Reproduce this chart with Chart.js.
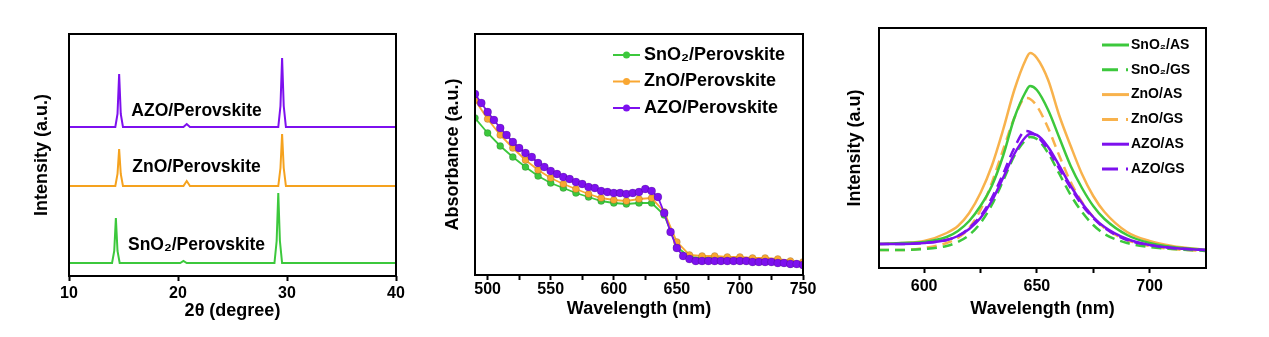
<!DOCTYPE html>
<html>
<head>
<meta charset="utf-8">
<script src="https://cdn.jsdelivr.net/npm/chart.js@4/dist/chart.umd.min.js"></script>
<style>
  body { margin: 0; background: #fff; }
  #wrap { position: relative; width: 1269px; height: 337px; }
  canvas { position: absolute; top: 0; }
</style>
</head>
<body>
<div id="wrap">
  <canvas id="xrd" width="420" height="337" style="left:0px"></canvas>
  <canvas id="abs" width="420" height="337" style="left:420px"></canvas>
  <canvas id="pl" width="429" height="337" style="left:840px"></canvas>
</div>
<script>
// --- XRD (panel a) ---
const xrdTicks = [10, 20, 30, 40];
const xrdAzoX = [10, 14.25, 14.45, 14.6, 14.75, 14.95, 20.5, 20.8, 21.1, 29.2, 29.4, 29.55, 29.7, 29.9, 40];
const xrdAzoY = [149, 149, 162, 202, 162, 149, 149, 152, 149, 149, 170, 218, 170, 149, 149];
const xrdZnoX = [10, 14.25, 14.45, 14.6, 14.75, 14.95, 20.5, 20.8, 21.1, 29.2, 29.4, 29.55, 29.7, 29.9, 40];
const xrdZnoY = [90, 90, 102, 127, 102, 90, 90, 95, 90, 90, 108, 142, 108, 90, 90];
const xrdSnoX = [10, 13.95, 14.15, 14.3, 14.45, 14.65, 20.2, 20.5, 20.8, 28.85, 29.05, 29.2, 29.35, 29.55, 40];
const xrdSnoY = [13, 13, 25, 58, 25, 13, 13, 15, 13, 13, 35, 83, 35, 13, 13];
const xrdNames = ['AZO/Perovskite', 'ZnO/Perovskite', 'SnO\u2082/Perovskite'];

// --- Absorbance (panel b) ---
const absTicks = [500, 525, 550, 575, 600, 625, 650, 675, 700, 725, 750];
const absX10 = [490, 500, 510, 520, 530, 540, 550, 560, 570, 580, 590, 600, 610, 620, 630, 640, 650, 660, 670, 680, 690, 700, 710, 720, 730, 740, 750];
const absSno = [157, 142, 129, 118, 108, 99, 92, 87, 82, 78, 74, 72, 71, 72, 72, 60, 28, 18, 17, 17, 16, 16, 15, 14, 13, 11, 10];
const absZno = [175, 156, 140, 127, 115, 105, 97, 91, 86, 81, 77, 75, 74, 76, 77, 63, 33, 20, 19, 19, 18, 18, 17, 17, 16, 14, 13];
const absX5 = [490, 495, 500, 505, 510, 515, 520, 525, 530, 535, 540, 545, 550, 555, 560, 565, 570, 575, 580, 585, 590, 595, 600, 605, 610, 615, 620, 625, 630, 635, 640, 645, 650, 655, 660, 665, 670, 675, 680, 685, 690, 695, 700, 705, 710, 715, 720, 725, 730, 735, 740, 745, 750];
const absAzo = [181, 172, 163, 155, 147, 140, 133, 127, 122, 118, 112, 108, 104, 101, 98, 96, 93, 91, 88, 87, 84, 83, 82, 82, 81, 82, 83, 86, 84, 78, 62, 43, 27, 19, 16, 14, 14, 14, 14, 14, 14, 14, 14, 14, 13, 13, 13, 13, 12, 12, 11, 11, 10];
const absNames = ['SnO\u2082/Perovskite', 'ZnO/Perovskite', 'AZO/Perovskite'];

// --- PL (panel c) ---
const plTicks = [600, 625, 650, 675, 700];
const plX = [580, 590, 600, 610, 615, 620, 625, 630, 635, 640, 645, 647, 650, 655, 660, 665, 670, 675, 680, 690, 700, 710, 725];
const plSnoAS = [24, 25, 26, 31, 37, 47, 62, 82, 112, 150, 176, 182, 178, 158, 130, 102, 80, 62, 49, 33, 25, 21, 18];
const plSnoGS = [18, 18, 19, 22, 26, 33, 45, 63, 87, 112, 128, 131, 129, 115, 94, 73, 56, 43, 34, 25, 21, 19, 17];
const plZnoAS = [24, 25, 27, 35, 42, 55, 75, 102, 138, 178, 208, 215, 210, 188, 152, 122, 94, 72, 56, 36, 27, 22, 18];
const plZnoGS = [18, 18, 20, 25, 30, 40, 58, 85, 118, 150, 170, 169, 162, 140, 112, 86, 66, 51, 40, 28, 22, 19, 17];
const plAzoAS = [24, 24, 25, 28, 32, 39, 50, 67, 90, 114, 131, 134, 133, 121, 102, 82, 65, 51, 41, 29, 23, 20, 18];
const plAzoGS = [24, 24, 25, 28, 32, 40, 52, 70, 94, 120, 137, 136, 132, 118, 99, 80, 63, 50, 40, 28, 23, 20, 18];
const plNames = ['SnO\u2082/AS', 'SnO\u2082/GS', 'ZnO/AS', 'ZnO/GS', 'AZO/AS', 'AZO/GS'];

const GREEN = '#3cc83c', ORANGE = '#f5a21e', PURPLE = '#7d10ee', PLORANGE = '#f8b24c';
const FONT = "'Liberation Sans', Arial, sans-serif";

function pts(xs, ys) { return xs.map((x, i) => ({ x: x, y: ys[i] })); }

// black box around plot area + extra drawing
const framePlugin = {
  id: 'frame',
  afterDraw(chart, args, opts) {
    const { ctx, chartArea: a } = chart;
    ctx.save();
    ctx.strokeStyle = '#000';
    ctx.lineWidth = 2;
    ctx.strokeRect(a.left, a.top, a.right - a.left, a.bottom - a.top);
    ctx.restore();
    if (opts.extra) opts.extra(chart);
  }
};

function xAxis(min, max, ticks, labelEvery, pad, titleText, titleBottom) {
  return {
    type: 'linear', min: min, max: max,
    afterBuildTicks: s => { s.ticks = ticks.map(v => ({ value: v })); },
    ticks: {
      color: '#000', padding: pad, maxRotation: 0, autoSkip: false,
      font: { family: FONT, size: 16, weight: 'bold' },
      callback: v => (v % labelEvery === 0 ? String(v) : '')
    },
    grid: { drawOnChartArea: false, drawTicks: true, tickLength: 5, tickWidth: 2, tickColor: '#000', color: '#000' },
    border: { display: false },
    title: { display: true, text: titleText, color: '#000', padding: { top: 0, bottom: titleBottom },
      font: { family: FONT, size: 18, weight: 'bold' } }
  };
}

function yAxis(max, titleText, titleTop, width) {
  return {
    type: 'linear', min: 0, max: max,
    ticks: { display: false },
    grid: { display: false },
    border: { display: false },
    afterFit: s => { s.width = width; },
    title: { display: true, text: titleText, color: '#000', padding: { top: titleTop, bottom: 0 },
      font: { family: FONT, size: 18, weight: 'bold' } }
  };
}

// ---------- panel a ----------
new Chart(document.getElementById('xrd'), {
  type: 'line',
  data: {
    datasets: [
      { data: pts(xrdAzoX, xrdAzoY), borderColor: PURPLE },
      { data: pts(xrdZnoX, xrdZnoY), borderColor: ORANGE },
      { data: pts(xrdSnoX, xrdSnoY), borderColor: GREEN }
    ]
  },
  options: {
    responsive: false, animation: false,
    datasets: { line: { borderWidth: 2, pointRadius: 0, tension: 0 } },
    layout: { padding: { top: 34, right: 24, left: 0, bottom: 0 } },
    plugins: {
      legend: { display: false }, tooltip: { enabled: false },
      frame: {
        extra(chart) {
          const { ctx, scales } = chart;
          const ys = [165, 109, 31];
          ctx.save();
          ctx.fillStyle = '#000';
          ctx.font = 'bold 17.5px ' + FONT;
          ctx.textAlign = 'center';
          ctx.textBaseline = 'middle';
          xrdNames.forEach((t, i) => ctx.fillText(t, scales.x.getPixelForValue(21.7), scales.y.getPixelForValue(ys[i])));
          ctx.restore();
        }
      }
    },
    scales: {
      x: Object.assign(xAxis(10, 40, xrdTicks, 10, 3, '2\u03b8 (degree)', 15), { afterFit: s => { s.height = 61; } }),
      y: yAxis(242, 'Intensity (a.u.)', 31, 69)
    }
  },
  plugins: [framePlugin]
});

// ---------- panel b ----------
function absLegend(chart) {
  const { ctx } = chart;
  ctx.save();
  ctx.font = 'bold 18px ' + FONT;
  ctx.textBaseline = 'middle';
  chart.data.datasets.forEach((ds, i) => {
    const y = 55 + i * 26.5;
    ctx.strokeStyle = ds.borderColor;
    ctx.lineWidth = 2;
    ctx.beginPath(); ctx.moveTo(193, y); ctx.lineTo(220, y); ctx.stroke();
    ctx.fillStyle = ds.borderColor;
    ctx.beginPath(); ctx.arc(206.5, y, 3.5, 0, Math.PI * 2); ctx.fill();
    ctx.fillStyle = '#000';
    ctx.fillText(ds.label, 224, y);
  });
  ctx.restore();
}

new Chart(document.getElementById('abs'), {
  type: 'line',
  data: {
    datasets: [
      { label: absNames[0], data: pts(absX10, absSno), borderColor: GREEN, pointBackgroundColor: GREEN, order: 2, pointRadius: 3.5 },
      { label: absNames[1], data: pts(absX10, absZno), borderColor: '#f9a732', pointBackgroundColor: '#f9a732', order: 1, pointRadius: 3.5 },
      { label: absNames[2], data: pts(absX5, absAzo), borderColor: PURPLE, pointBackgroundColor: PURPLE, order: 0, pointRadius: 4 }
    ]
  },
  options: {
    responsive: false, animation: false,
    datasets: { line: { borderWidth: 1.8, tension: 0, pointBorderWidth: 1, pointBorderColor: 'rgba(0,0,0,0.15)' } },
    layout: { padding: { top: 34, right: 37, left: 0, bottom: 0 } },
    plugins: { legend: { display: false }, tooltip: { enabled: false }, frame: { extra: absLegend } },
    scales: {
      x: Object.assign(xAxis(490, 750, absTicks, 50, 0, 'Wavelength (nm)', 17), { afterFit: s => { s.height = 62; } }),
      y: yAxis(241, 'Absorbance (a.u.)', 22, 55)
    }
  },
  plugins: [framePlugin]
});

// ---------- panel c ----------
function plLegend(chart) {
  const { ctx } = chart;
  ctx.save();
  ctx.font = 'bold 14px ' + FONT;
  ctx.textBaseline = 'middle';
  chart.data.datasets.forEach((ds, i) => {
    const y = 45 + i * 24.8;
    ctx.strokeStyle = ds.borderColor;
    ctx.lineWidth = 3;
    ctx.setLineDash(ds.borderDash ? [16, 8, 2, 100] : []);
    ctx.beginPath(); ctx.moveTo(262, y); ctx.lineTo(289, y); ctx.stroke();
    ctx.setLineDash([]);
    ctx.fillStyle = '#000';
    ctx.fillText(ds.label, 291, y);
  });
  ctx.restore();
}

new Chart(document.getElementById('pl'), {
  type: 'line',
  data: {
    datasets: [
      { label: plNames[0], data: pts(plX, plSnoAS), borderColor: GREEN, order: 3 },
      { label: plNames[1], data: pts(plX, plSnoGS), borderColor: GREEN, borderDash: [10, 6], order: 2 },
      { label: plNames[2], data: pts(plX, plZnoAS), borderColor: PLORANGE, order: 5 },
      { label: plNames[3], data: pts(plX, plZnoGS), borderColor: PLORANGE, borderDash: [10, 6], order: 4 },
      { label: plNames[4], data: pts(plX, plAzoAS), borderColor: PURPLE, order: 0 },
      { label: plNames[5], data: pts(plX, plAzoGS), borderColor: PURPLE, borderDash: [10, 6], order: 1 }
    ]
  },
  options: {
    responsive: false, animation: false,
    datasets: { line: { borderWidth: 2.5, pointRadius: 0, cubicInterpolationMode: 'monotone' } },
    layout: { padding: { top: 28, right: 63, left: 0, bottom: 0 } },
    plugins: { legend: { display: false }, tooltip: { enabled: false }, frame: { extra: plLegend } },
    scales: {
      x: Object.assign(xAxis(580, 725, plTicks, 50, 4, 'Wavelength (nm)', 17), { afterFit: s => { s.height = 69; } }),
      y: yAxis(240, 'Intensity (a.u)', 4, 39)
    }
  },
  plugins: [framePlugin]
});
</script>
</body>
</html>
